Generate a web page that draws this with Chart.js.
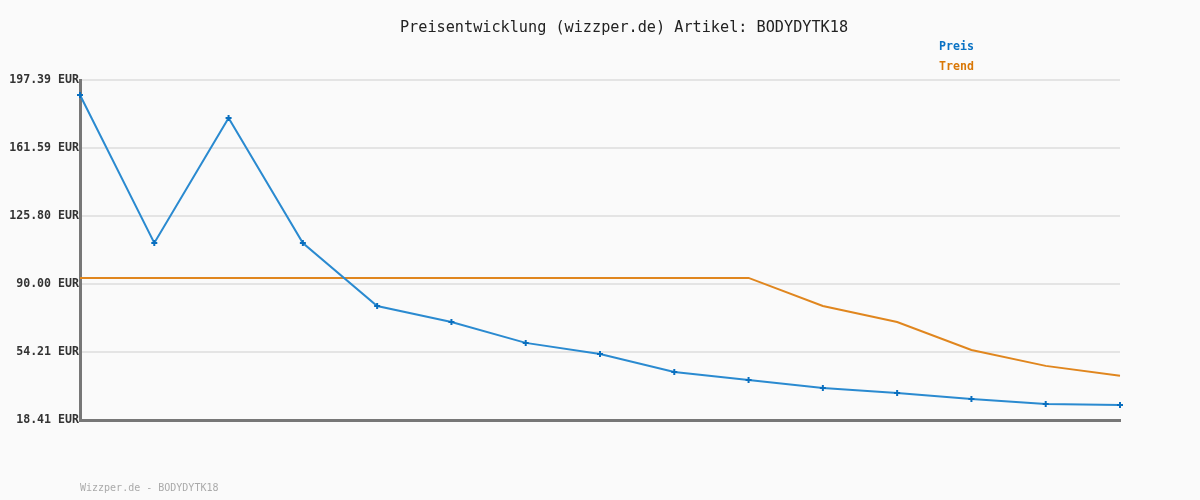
<!DOCTYPE html>
<html>
<head>
<meta charset="utf-8">
<script src="https://cdn.jsdelivr.net/npm/chart.js@4/dist/chart.umd.min.js"></script>
<style>
html,body{margin:0;padding:0;background:#fafafa;}
canvas{display:block;}
</style>
</head>
<body>
<canvas id="c" width="1200" height="500"></canvas>
<script>
const titleText = "Preisentwicklung (wizzper.de) Artikel: BODYDYTK18";
const footerText = "Wizzper.de - BODYDYTK18";
const categories = ["1","2","3","4","5","6","7","8","9","10","11","12","13","14","15"];
const preis = [189.5, 111.6, 177.4, 111.6, 78.4, 70.0, 59.0, 53.2, 43.7, 39.5, 35.3, 32.6, 29.5, 26.8, 26.3];
const trend = [93.2, 93.2, 93.2, 93.2, 93.2, 93.2, 93.2, 93.2, 93.2, 93.2, 78.4, 70.0, 55.3, 46.9, 41.7];
const yTicks = [18.41, 54.21, 90.00, 125.80, 161.59, 197.39];

const mono = "'DejaVu Sans Mono', 'Liberation Mono', monospace";

const decor = {
  id: 'decor',
  beforeDraw(chart) {
    const ctx = chart.ctx;
    ctx.save();
    ctx.fillStyle = '#fafafa';
    ctx.fillRect(0, 0, chart.width, chart.height);
    ctx.restore();
  },
  afterDraw(chart) {
    const ctx = chart.ctx;
    ctx.save();
    ctx.textBaseline = 'middle';
    ctx.fillStyle = '#222';
    ctx.font = "15.2px " + mono;
    ctx.textAlign = 'center';
    ctx.fillText(titleText, 624, 28);
    ctx.textAlign = 'left';
    ctx.font = "bold 11.6px " + mono;
    chart.data.datasets.forEach((ds, i) => {
      ctx.fillStyle = ds.legendColor;
      ctx.fillText(ds.label, 939, 47 + i * 20);
    });
    ctx.fillStyle = '#aaaaaa';
    ctx.font = "10px " + mono;
    ctx.fillText(footerText, 80, 488);
    ctx.restore();
  }
};

new Chart(document.getElementById('c'), {
  type: 'line',
  data: {
    labels: categories,
    datasets: [
      {
        label: 'Preis',
        data: preis,
        borderColor: '#2a8ad0',
        borderWidth: 2,
        tension: 0,
        pointStyle: 'cross',
        pointRadius: 3,
        pointBorderWidth: 2,
        pointBorderColor: '#0a6fbf',
        pointBackgroundColor: '#0a6fbf',
        legendColor: '#0a72c4',
        order: 1
      },
      {
        label: 'Trend',
        data: trend,
        borderColor: '#e0861e',
        borderWidth: 2,
        tension: 0,
        pointRadius: 0,
        legendColor: '#d97706',
        order: 2
      }
    ]
  },
  options: {
    responsive: false,
    animation: false,
    devicePixelRatio: 1,
    layout: { padding: { left: 0, right: 80, top: 80, bottom: 80 } },
    plugins: {
      legend: { display: false },
      title: { display: false },
      tooltip: { enabled: false }
    },
    scales: {
      x: {
        type: 'category',
        offset: false,
        ticks: { display: false },
        grid: { display: false, drawTicks: false },
        border: { display: true, color: '#777777', width: 3 },
        afterFit(s) { s.height = 0; }
      },
      y: {
        min: 18.41,
        max: 197.39,
        afterBuildTicks(s) { s.ticks = yTicks.map(v => ({ value: v })); },
        afterFit(s) { s.width = 80; },
        ticks: {
          padding: 1,
          color: '#333333',
          font: { family: mono, size: 11.6, weight: 'bold' },
          callback: v => Number(v).toFixed(2) + ' EUR'
        },
        grid: { color: '#e4e4e4', lineWidth: 2, drawTicks: false },
        border: { display: true, color: '#777777', width: 3 }
      }
    }
  },
  plugins: [decor]
});
</script>
</body>
</html>
